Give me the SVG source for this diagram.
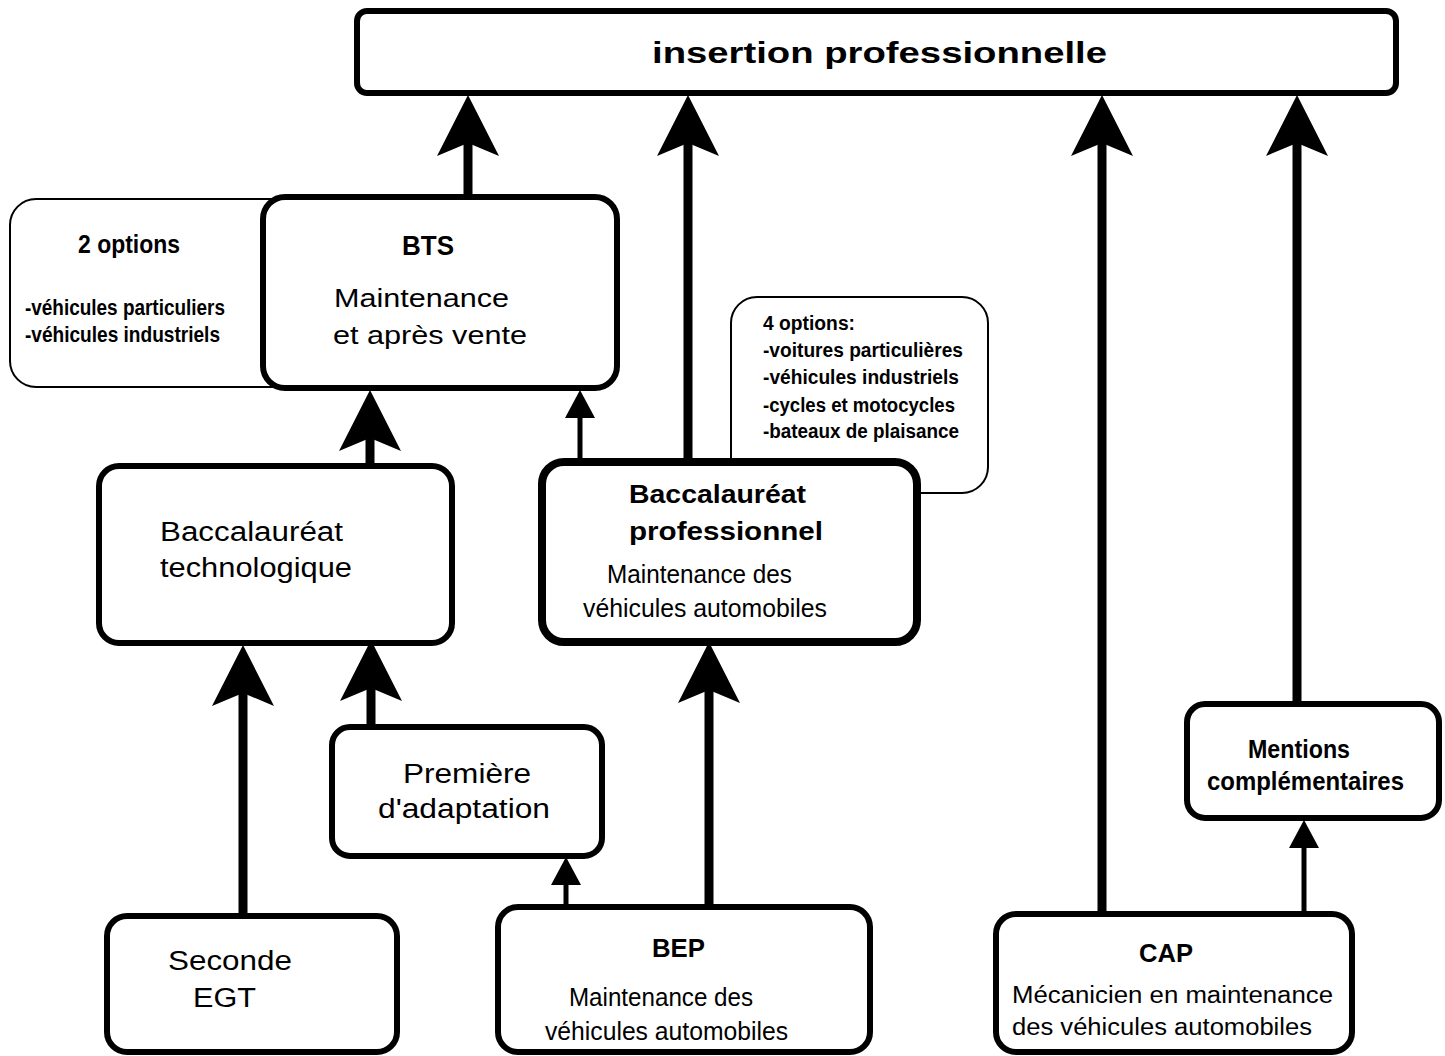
<svg xmlns="http://www.w3.org/2000/svg" width="1445" height="1056" viewBox="0 0 1445 1056">
<style>
.box{fill:#fff;stroke:#000;stroke-width:6}
.thick{fill:#fff;stroke:#000;stroke-width:8}
.thin{fill:#fff;stroke:#000;stroke-width:2}
.t{font-family:"Liberation Sans",Arial,sans-serif;fill:#000}
.b{font-weight:bold}
.big{stroke:#000;stroke-width:9;fill:none}
.sm{stroke:#000;stroke-width:5;fill:none}
</style>
<defs>
<marker id="headBig" markerUnits="userSpaceOnUse" orient="auto" markerWidth="62" markerHeight="62" viewBox="0 0 61 62" refX="16" refY="31">
<path d="M61,31 L0,0 L13,31 L0,62 Z" fill="#000"/>
</marker>
<marker id="headSm" markerUnits="userSpaceOnUse" orient="auto" markerWidth="30" markerHeight="30" viewBox="0 0 28 30" refX="8" refY="15">
<path d="M28,15 L0,0 L0,30 Z" fill="#000"/>
</marker>
</defs>
<rect width="1445" height="1056" fill="#fff"/>

<g id="connectors">
<path class="big" d="M468,197 V140" marker-end="url(#headBig)"/>
<path class="big" d="M688,462 V140" marker-end="url(#headBig)"/>
<path class="big" d="M1102,914 V140" marker-end="url(#headBig)"/>
<path class="big" d="M1297,704 V140" marker-end="url(#headBig)"/>
<path class="big" d="M370,466 V435" marker-end="url(#headBig)"/>
<path class="big" d="M243,916 V690" marker-end="url(#headBig)"/>
<path class="big" d="M371,727 V685" marker-end="url(#headBig)"/>
<path class="big" d="M709,907 V687" marker-end="url(#headBig)"/>
<path class="sm" d="M580,462 V410" marker-end="url(#headSm)"/>
<path class="sm" d="M566,907 V877" marker-end="url(#headSm)"/>
<path class="sm" d="M1304,914 V840" marker-end="url(#headSm)"/>
</g>

<g id="insertion">
<rect class="box" x="357" y="11" width="1039" height="82" rx="10"/>
<text class="t b" x="652" y="63" font-size="30" textLength="455" lengthAdjust="spacingAndGlyphs">insertion professionnelle</text>
</g>

<g id="options2">
<rect class="thin" x="10" y="199" width="300" height="188" rx="26"/>
<text class="t b" x="78" y="253" font-size="25" textLength="102" lengthAdjust="spacingAndGlyphs">2 options</text>
<text class="t b" x="25" y="315" font-size="22" textLength="200" lengthAdjust="spacingAndGlyphs">-véhicules particuliers</text>
<text class="t b" x="25" y="342" font-size="22" textLength="195" lengthAdjust="spacingAndGlyphs">-véhicules industriels</text>
</g>

<g id="bts">
<rect class="box" x="263" y="197" width="354" height="191" rx="22"/>
<text class="t b" x="402" y="255" font-size="27" textLength="52" lengthAdjust="spacingAndGlyphs">BTS</text>
<text class="t" x="334" y="307" font-size="26" textLength="175" lengthAdjust="spacingAndGlyphs">Maintenance</text>
<text class="t" x="333" y="344" font-size="26" textLength="194" lengthAdjust="spacingAndGlyphs">et après vente</text>
</g>

<g id="options4">
<rect class="thin" x="731" y="297" width="257" height="196" rx="26"/>
<text class="t b" x="763" y="330" font-size="20" textLength="92" lengthAdjust="spacingAndGlyphs">4 options:</text>
<text class="t b" x="763" y="357" font-size="20" textLength="200" lengthAdjust="spacingAndGlyphs">-voitures particulières</text>
<text class="t b" x="763" y="384" font-size="20" textLength="196" lengthAdjust="spacingAndGlyphs">-véhicules industriels</text>
<text class="t b" x="763" y="412" font-size="20" textLength="192" lengthAdjust="spacingAndGlyphs">-cycles et motocycles</text>
<text class="t b" x="763" y="438" font-size="20" textLength="196" lengthAdjust="spacingAndGlyphs">-bateaux de plaisance</text>
</g>

<g id="bac-techno">
<rect class="box" x="99" y="466" width="353" height="177" rx="20"/>
<text class="t" x="160" y="541" font-size="27" textLength="183" lengthAdjust="spacingAndGlyphs">Baccalauréat</text>
<text class="t" x="160" y="577" font-size="27" textLength="192" lengthAdjust="spacingAndGlyphs">technologique</text>
</g>

<g id="bac-pro">
<rect class="thick" x="542" y="462" width="375" height="180" rx="22"/>
<text class="t b" x="629" y="503" font-size="25" textLength="177" lengthAdjust="spacingAndGlyphs">Baccalauréat</text>
<text class="t b" x="629" y="540" font-size="25" textLength="194" lengthAdjust="spacingAndGlyphs">professionnel</text>
<text class="t" x="607" y="583" font-size="25" textLength="185" lengthAdjust="spacingAndGlyphs">Maintenance des</text>
<text class="t" x="583" y="617" font-size="25" textLength="244" lengthAdjust="spacingAndGlyphs">véhicules automobiles</text>
</g>

<g id="premiere">
<rect class="box" x="332" y="727" width="270" height="129" rx="18"/>
<text class="t" x="403" y="783" font-size="27" textLength="128" lengthAdjust="spacingAndGlyphs">Première</text>
<text class="t" x="378" y="818" font-size="27" textLength="172" lengthAdjust="spacingAndGlyphs">d'adaptation</text>
</g>

<g id="seconde">
<rect class="box" x="107" y="916" width="290" height="136" rx="20"/>
<text class="t" x="168" y="970" font-size="27" textLength="124" lengthAdjust="spacingAndGlyphs">Seconde</text>
<text class="t" x="193" y="1007" font-size="27" textLength="63" lengthAdjust="spacingAndGlyphs">EGT</text>
</g>

<g id="bep">
<rect class="box" x="498" y="907" width="372" height="145" rx="20"/>
<text class="t b" x="652" y="957" font-size="26" textLength="53" lengthAdjust="spacingAndGlyphs">BEP</text>
<text class="t" x="569" y="1006" font-size="25" textLength="184" lengthAdjust="spacingAndGlyphs">Maintenance des</text>
<text class="t" x="545" y="1040" font-size="25" textLength="243" lengthAdjust="spacingAndGlyphs">véhicules automobiles</text>
</g>

<g id="cap">
<rect class="box" x="996" y="914" width="356" height="138" rx="20"/>
<text class="t b" x="1139" y="962" font-size="26" textLength="54" lengthAdjust="spacingAndGlyphs">CAP</text>
<text class="t" x="1012" y="1003" font-size="23" textLength="321" lengthAdjust="spacingAndGlyphs">Mécanicien en maintenance</text>
<text class="t" x="1012" y="1035" font-size="23" textLength="300" lengthAdjust="spacingAndGlyphs">des véhicules automobiles</text>
</g>

<g id="mentions">
<rect class="box" x="1187" y="704" width="252" height="114" rx="18"/>
<text class="t b" x="1248" y="758" font-size="25" textLength="102" lengthAdjust="spacingAndGlyphs">Mentions</text>
<text class="t b" x="1207" y="790" font-size="25" textLength="197" lengthAdjust="spacingAndGlyphs">complémentaires</text>
</g>
</svg>
